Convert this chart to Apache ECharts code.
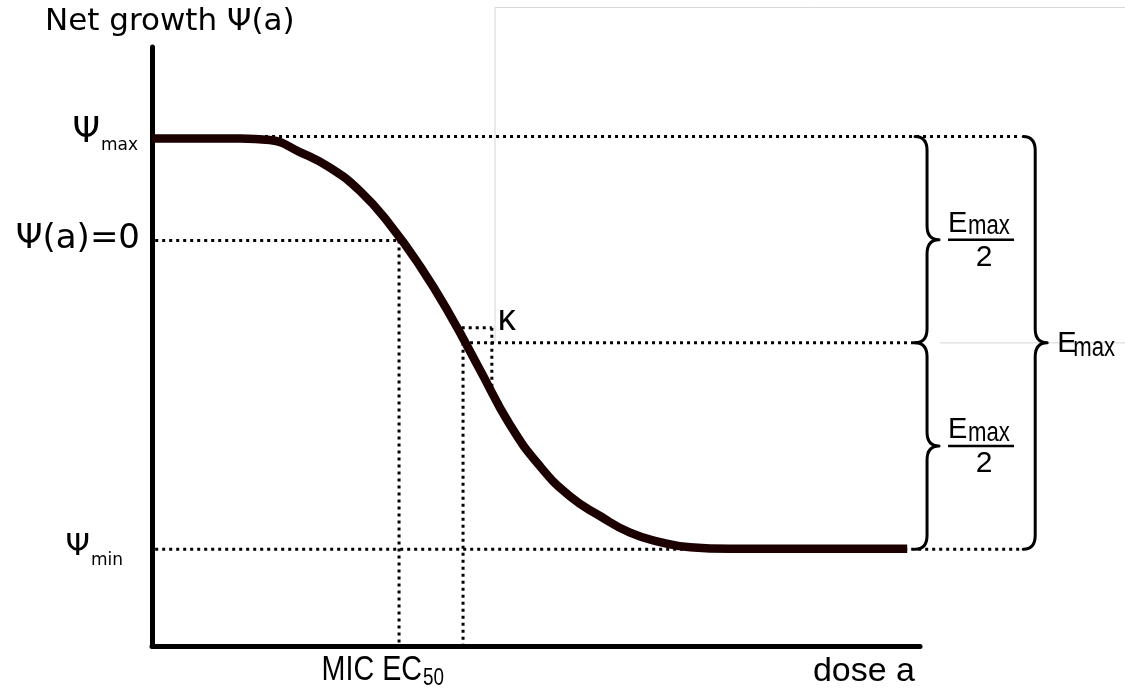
<!DOCTYPE html>
<html>
<head>
    <meta charset="utf-8">
    <script src="https://cdn.jsdelivr.net/npm/echarts@6/dist/echarts.min.js"></script>
</head>
<body style="margin:0;background:#fff">
    <div id="main" style="width:1125px;height:693px"></div>
    <script type="text/javascript">
        // dose-response curve
        var doseA = [0, 1.375, 1.84, 2.31, 2.78, 3.25, 3.72, 4.19, 4.66, 5.13, 5.59, 6.06, 6.53, 7.0, 7.47, 7.94, 8.41, 9.03, 11.8];
        var psiA = [0.98, 0.98, 0.965, 0.85, 0.7, 0.475, 0.15, -0.25, -0.72, -1.25, -1.77, -2.17, -2.46, -2.65, -2.81, -2.9, -2.95, -2.965, -2.965];

        // levels and doses marked on the sketch
        var psiMax = 1, psiMin = -2.97, psiZero = 0;
        var psiMid = (psiMax + psiMin) / 2;
        var mic = 3.86, ec50 = 4.86;
        var kappaBox = [4.73, 5.31, -0.84, -1.41];   // left, right, top, bottom
        var xMax = 12, yMin = -3.9, yMax = 1.86;
        var innerBraceX = 12.11, outerBraceX = 13.8, guideEnd = 13.56, midGuideEnd = 11.92;
        var frameX = 5.36, frameTop = 2.24, frameRight = 15.3;

        var dj = function (s) { return s + 'px "DejaVu Sans"'; };
        var lib = function (s) { return s + 'px "Liberation Sans"'; };
        var NARROW = 0.82;

        var curve = doseA.map(function (d, i) { return [d, psiA[i]]; });

        // dotted guides: x1, y1, x2, y2
        var guides = [
            [1.11, psiMax, guideEnd, psiMax],
            [0.05, psiZero, mic, psiZero],
            [mic, psiZero, mic, yMin],
            [0.05, psiMin, guideEnd, psiMin],
            [ec50, psiMid, midGuideEnd, psiMid],
            [ec50, psiMid, ec50, yMin],
            [kappaBox[0], kappaBox[2], kappaBox[1], kappaBox[2]],
            [kappaBox[1], kappaBox[2], kappaBox[1], kappaBox[3]]
        ];
        // faint frame lines from the source image
        var frame = [
            [frameX, psiMid, frameX, frameTop],
            [frameX, frameTop, frameRight, frameTop],
            [innerBraceX + 0.2, psiMid, frameRight, psiMid]
        ];
        var braces = [
            [innerBraceX, psiMax, psiMid],
            [innerBraceX, psiMid, psiMin],
            [outerBraceX, psiMax, psiMin]
        ];

        var notes = [
            { at: [0, yMax], text: 'Net growth Ψ(a)', dx: -107, dy: -25, align: 'left', font: dj(31) },
            { at: [0, psiMax], text: 'Ψ', dx: -52, dy: -4, align: 'right', font: dj(35) },
            { at: [0, psiMax], text: 'max', dx: -51, dy: 9, align: 'left', font: dj(17) },
            { at: [0, psiZero], text: 'Ψ(a)=0', dx: -12, dy: -1, align: 'right', font: dj(34) },
            { at: [0, psiMin], text: 'Ψ', dx: -62, dy: -2, align: 'right', font: dj(31) },
            { at: [0, psiMin], text: 'min', dx: -61, dy: 11, align: 'left', font: dj(17) },
            { at: [ec50, yMin], text: 'MIC EC', dx: -41, dy: 24, align: 'right', font: lib(35), sx: NARROW },
            { at: [ec50, yMin], text: '50', dx: -40, dy: 33, align: 'left', font: lib(23), sx: NARROW },
            { at: [xMax, yMin], text: 'dose a', dx: -5, dy: 26, align: 'right', font: lib(34) },
            { at: [kappaBox[1], kappaBox[2]], text: 'κ', dx: 15, dy: -8, align: 'center', font: lib(36) }
        ];
        var fractions = [
            [innerBraceX, (psiMax + psiMid) / 2],
            [innerBraceX, (psiMid + psiMin) / 2]
        ];

        var myChart = echarts.init(document.getElementById('main'));

        var segmentRenderer = function (color, width, dash) {
            return function (params, api) {
                var a = api.coord([api.value(0), api.value(1)]);
                var b = api.coord([api.value(2), api.value(3)]);
                return {
                    type: 'line',
                    shape: { x1: a[0], y1: a[1], x2: b[0], y2: b[1] },
                    style: { stroke: color, lineWidth: width, lineDash: dash }
                };
            };
        };

        var text = function (t, x, y, font, align, sx) {
            return { type: 'text', x: x, y: y, scaleX: sx || 1,
                style: { text: t, font: font, fill: '#000', align: align, verticalAlign: 'middle' } };
        };

        var series = [{
            type: 'custom', data: frame, silent: true,
            encode: { x: [0, 2], y: [1, 3] },
            renderItem: segmentRenderer('#d6d6d6', 1, null)
        }, {
            type: 'line', data: curve, symbol: 'none', smooth: 0.5,
            lineStyle: { color: '#1c0000', width: 8.5, cap: 'butt' }, silent: true
        }, {
            type: 'custom', data: guides, silent: true,
            encode: { x: [0, 2], y: [1, 3] },
            renderItem: segmentRenderer('#000', 3, [3, 4])
        }, {
            type: 'custom', data: braces, silent: true,
            encode: { x: 0, y: [1, 2] },
            renderItem: function (params, api) {
                var x = api.value(0);
                var a = api.coord([x, api.value(1)]);
                var b = api.coord([x, api.value(2)]);
                var sx = a[0], yT = a[1], yB = b[1], yM = (yT + yB) / 2;
                var hook = 12, tip = 12, r = 14;
                var d = 'M' + (sx - hook) + ',' + yT +
                    ' Q' + sx + ',' + yT + ' ' + sx + ',' + (yT + r) +
                    ' L' + sx + ',' + (yM - r) +
                    ' Q' + sx + ',' + yM + ' ' + (sx + tip) + ',' + yM +
                    ' Q' + sx + ',' + yM + ' ' + sx + ',' + (yM + r) +
                    ' L' + sx + ',' + (yB - r) +
                    ' Q' + sx + ',' + yB + ' ' + (sx - hook) + ',' + yB;
                return {
                    type: 'path', shape: { pathData: d },
                    style: { fill: null, stroke: '#000', lineWidth: 3, lineCap: 'round', lineJoin: 'round' }
                };
            }
        }, {
            type: 'custom', data: fractions, silent: true,
            renderItem: function (params, api) {
                var p = api.coord([api.value(0), api.value(1)]);
                return {
                    type: 'group', children: [
                        text('E', p[0] + 21, p[1] - 16, lib(29), 'left'),
                        text('max', p[0] + 41, p[1] - 13, lib(27), 'left', NARROW),
                        { type: 'line', shape: { x1: p[0] + 21, y1: p[1], x2: p[0] + 87, y2: p[1] },
                          style: { stroke: '#000', lineWidth: 2.5 } },
                        text('2', p[0] + 57, p[1] + 18, lib(30), 'center')
                    ]
                };
            }
        }, {
            type: 'custom', data: [[outerBraceX, psiMid]], silent: true,
            renderItem: function (params, api) {
                var p = api.coord([api.value(0), api.value(1)]);
                return {
                    type: 'group', children: [
                        text('E', p[0] + 22, p[1] + 1, lib(29), 'left'),
                        text('max', p[0] + 38, p[1] + 6, lib(27), 'left', NARROW)
                    ]
                };
            }
        }, {
            type: 'custom', data: notes.map(function (n) { return n.at; }), silent: true,
            renderItem: function (params, api) {
                var n = notes[params.dataIndex];
                var p = api.coord([api.value(0), api.value(1)]);
                return text(n.text, p[0] + n.dx, p[1] + n.dy, n.font, n.align, n.sx);
            }
        }];

        var option = {
            animation: false,
            backgroundColor: '#fff',
            grid: { left: 152, top: 47, width: 768, height: 599 },
            xAxis: {
                type: 'value', min: 0, max: xMax,
                axisLine: { show: true, onZero: false, lineStyle: { color: '#000', width: 5 } },
                axisTick: { show: false }, axisLabel: { show: false }, splitLine: { show: false }
            },
            yAxis: {
                type: 'value', min: yMin, max: yMax,
                axisLine: { show: true, onZero: false, lineStyle: { color: '#000', width: 5 } },
                axisTick: { show: false }, axisLabel: { show: false }, splitLine: { show: false }
            },
            series: series
        };

        myChart.setOption(option);
    </script>
</body>
</html>
